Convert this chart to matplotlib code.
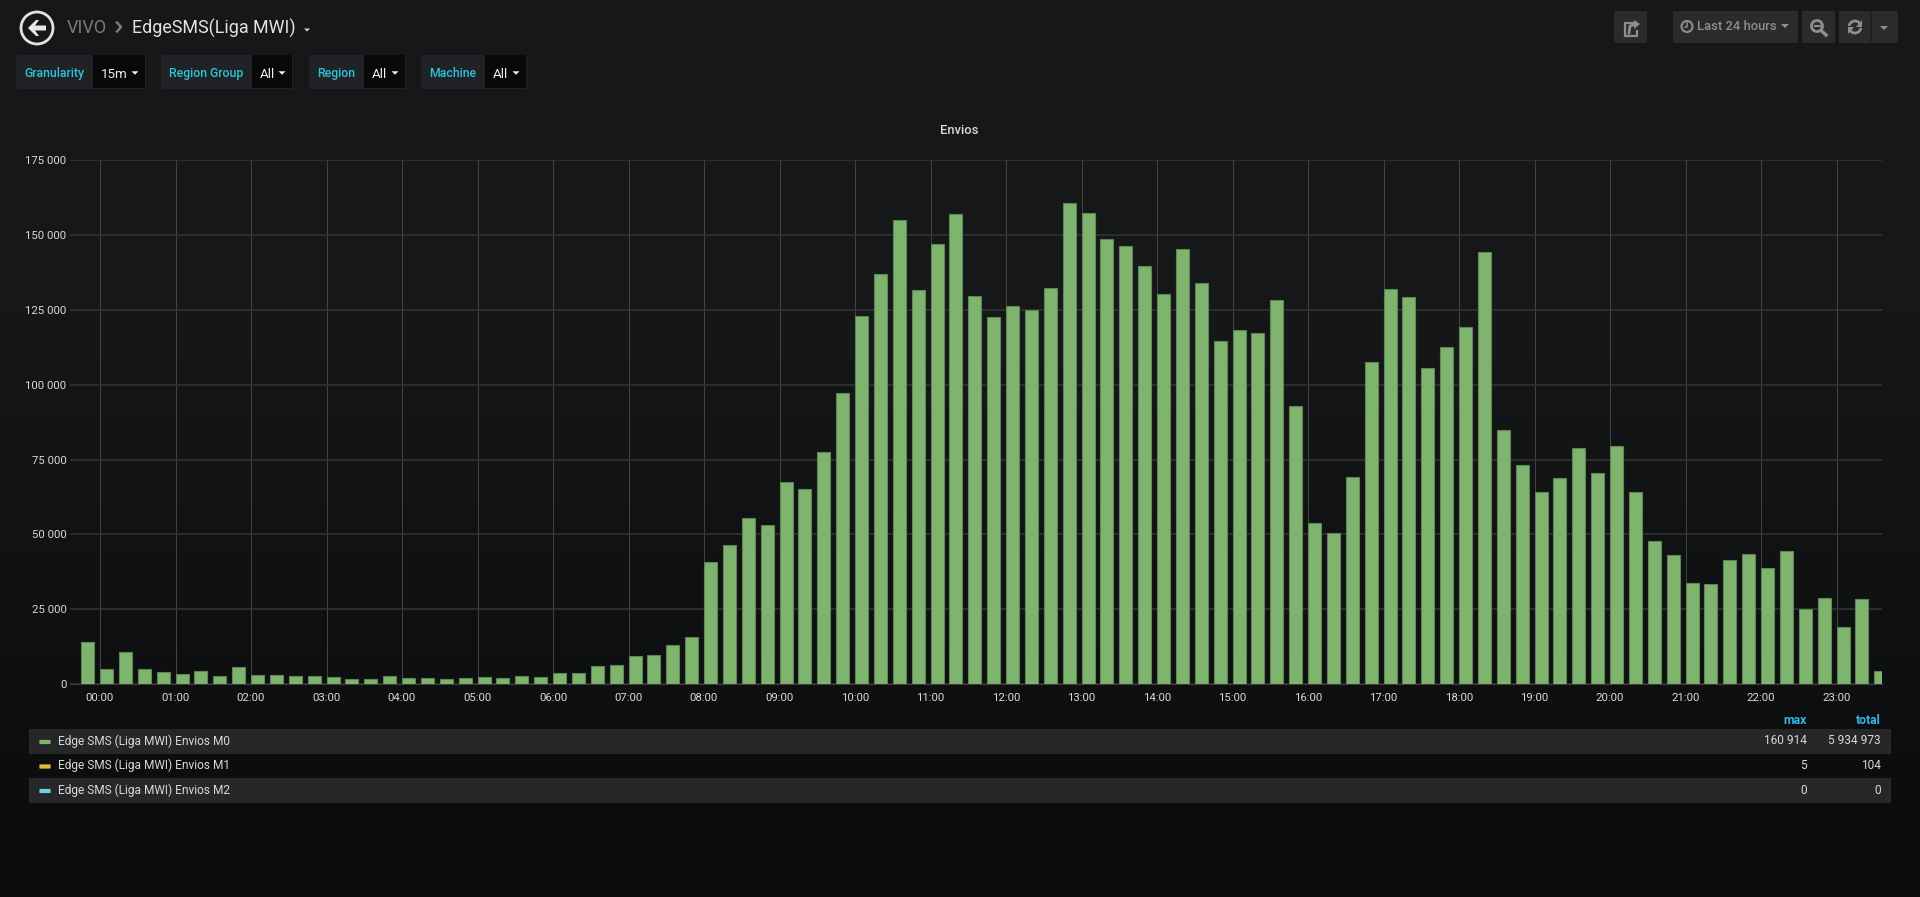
import numpy as np
import matplotlib
matplotlib.use("Agg")
import matplotlib.pyplot as plt
from matplotlib.patches import Rectangle, Circle, Polygon, Arc, FancyBboxPatch

plt.rcParams['font.family'] = ['Roboto', 'DejaVu Sans']

# Data, one bar per 15 min, first bar is 23:45 of the day before
envios_m0 = [14200, 4900, 10800, 5000, 4100, 3500, 4300, 2700, 5700, 3000, 3000, 2700, 2800,
             2350, 1800, 1600, 2800, 2100, 2000, 1700, 2000, 2350, 1900, 2700, 2350, 3600,
             3800, 5900, 6500, 9300, 9800, 13000, 15700,
             40850, 46500, 55500, 53000, 67500, 65300, 77500, 97200,
             123100, 136900, 155200, 131800, 147100, 157100, 129800, 122800,
             126300, 125000, 132500, 160914, 157600, 148800, 146400, 139700,
             130500, 145400, 134100, 114800, 118500, 117400, 128300, 92900,
             53800, 50600, 69300, 107800, 132000, 129500, 105800, 112500,
             119300, 144400, 84800, 73200, 64300, 69000, 78800, 70500,
             79600, 64300, 47700, 43200, 33900, 33400, 41400, 43500,
             38800, 44600, 25200, 28900, 19000, 28300, 4200]
y_ticks = [0, 25000, 50000, 75000, 100000, 125000, 150000, 175000]
hour_labels = ["%02d:00" % h for h in range(24)]

legend_names = ["Edge SMS (Liga MWI) Envios M0", "Edge SMS (Liga MWI) Envios M1", "Edge SMS (Liga MWI) Envios M2"]
legend_colors = ["#7eb26d", "#eab839", "#6ed0e0"]
legend_max = ["160 914", "5", "0"]
legend_total = ["5 934 973", "104", "0"]

variable_names = ["Granularity", "Region Group", "Region", "Machine"]
variable_values = ["15m", "All", "All", "All"]

W, H = 1920, 897
TEXT = "#d8d9da"
BLUE = "#33b5e5"
CYAN = "#2bc4d8"
BTN = "#2a2b2d"
ICON = "#8e8e8e"

fig = plt.figure(figsize=(W / 100, H / 100), dpi=100)

# background gradient + page chrome, in pixel coords
bg = fig.add_axes([0, 0, 1, 1], zorder=0)
bg.set_xlim(0, W)
bg.set_ylim(H, 0)
bg.axis("off")
grad = np.linspace(0, 1, 256).reshape(-1, 1)
grad = np.clip((grad - 0.35) / 0.65, 0, 1)
top = np.array([22, 23, 25]) / 255
bottom = np.array([10, 11, 13]) / 255
img = top + (bottom - top) * grad[:, :, None]
bg.imshow(img, extent=[0, W, H, 0], aspect="auto", zorder=0)


def box(x0, y0, x1, y1, color, z=1):
    bg.add_patch(FancyBboxPatch((x0 + 1, y0 + 1), x1 - x0 - 2, y1 - y0 - 2, boxstyle="round,pad=1",
                                fc=color, ec="none", zorder=z))


def caret(x, y, color, size=4):
    bg.add_patch(Polygon([[x - size, y - size / 2], [x + size, y - size / 2], [x, y + size / 2]],
                         closed=True, fc=color, ec="none", zorder=4))


# header
bg.add_patch(Circle((37, 28), 16, fc="none", ec="#e3e3e3", lw=2, zorder=3))
bg.add_patch(Polygon([[28, 28], [36, 20], [39, 20], [35, 25.5], [46, 25.5], [46, 30.5], [35, 30.5], [39, 36], [36, 36]],
                     closed=True, fc="#e8e8e8", ec="none", zorder=3))
bg.text(67, 28, "VIVO", color="#7b7b7b", fontsize=13, va="center", ha="left")
bg.plot([117, 121, 117], [22.5, 27, 31.5], color="#7b7b7b", lw=1.8, zorder=3)
bg.text(132, 28, "EdgeSMS(Liga MWI)", color="#e3e3e3", fontsize=12.9, va="center", ha="left")
caret(307, 30, "#d8d9da", 3)

# template variable chips
chips = [(16, 93, 146), (161, 252, 293), (309, 364, 406), (421, 485, 527)]
for i in range(len(chips)):
    x0, xm, x1 = chips[i]
    box(x0, 55, x1, 89, "#212225", 1)
    bg.add_patch(Rectangle((xm, 55.5), x1 - xm - 1, 33, fc="#08090b", ec="none", zorder=2))
    bg.text((x0 + xm) / 2, 73.5, variable_names[i], color=CYAN, fontsize=8.8, fontweight="medium",
            va="center", ha="center")
    bg.text(xm + 8, 74, variable_values[i], color="#f0f0f0", fontsize=9.6, va="center", ha="left")
    caret(x1 - 11, 73, "#f0f0f0", 3.5)

# top right buttons
box(1614, 11, 1647, 43, BTN)
box(1673, 11, 1798, 43, BTN)
box(1802, 11, 1835, 43, BTN)
box(1839, 11, 1898, 43, BTN)
bg.plot([1871, 1871], [11, 43], color="#1d1e20", lw=1, zorder=2)
# share icon
bg.plot([1634, 1625, 1625, 1637, 1637], [23, 23, 36, 36, 31], color=ICON, lw=1.6, zorder=3)
bg.plot([1629, 1630, 1636], [33, 26, 24], color=ICON, lw=2, zorder=3)
bg.add_patch(Polygon([[1634, 20], [1640, 24], [1634, 29]], closed=True, fc=ICON, ec="none", zorder=3))
# clock
bg.add_patch(Circle((1687, 26.5), 5.5, fc="none", ec=ICON, lw=1.5, zorder=3))
bg.plot([1687, 1687, 1684.5], [23, 27, 27], color=ICON, lw=1.1, zorder=3)
bg.text(1697, 27, "Last 24 hours", color=ICON, fontsize=9.4, fontweight="medium", va="center", ha="left")
caret(1785, 26, ICON, 4)
# zoom out
bg.add_patch(Circle((1817, 26), 5.5, fc="none", ec=ICON, lw=2, zorder=3))
bg.plot([1814.5, 1819.5], [26, 26], color=ICON, lw=1.5, zorder=3)
bg.plot([1821, 1826], [30.5, 35], color=ICON, lw=2.5, zorder=3)
# refresh
bg.add_patch(Arc((1855, 27), 12, 12, theta1=190, theta2=340, ec=ICON, lw=2, zorder=3))
bg.add_patch(Arc((1855, 27), 12, 12, theta1=10, theta2=160, ec=ICON, lw=2, zorder=3))
bg.add_patch(Polygon([[1862, 20], [1862, 27], [1856, 27]], closed=True, fc=ICON, ec="none", zorder=3))
bg.add_patch(Polygon([[1848, 34], [1848, 27], [1854, 27]], closed=True, fc=ICON, ec="none", zorder=3))
caret(1884, 28, ICON, 4)

# panel title
bg.text(959, 130, "Envios", color=TEXT, fontsize=9.4, fontweight="medium", va="center", ha="center")

# legend table
bg.text(1807, 720, "max", color=BLUE, fontsize=8.8, fontweight="bold", va="center", ha="right")
bg.text(1881, 720, "total", color=BLUE, fontsize=8.8, fontweight="bold", va="center", ha="right")
row_top = [729, 754, 778]
row_bot = [754, 778, 803]
for i in range(3):
    if i != 1:
        bg.add_patch(Rectangle((29, row_top[i]), 1862, row_bot[i] - row_top[i], fc="#262729", ec="none", zorder=1))
    yc = (row_top[i] + row_bot[i]) / 2
    bg.add_patch(FancyBboxPatch((40, yc - 1), 10, 3, boxstyle="round,pad=0.6", fc=legend_colors[i], ec="none", zorder=3))
    bg.text(57.5, yc - 0.5, legend_names[i], color=TEXT, fontsize=8.6, va="center", ha="left")
    bg.text(1807, yc - 0.5, legend_max[i], color=TEXT, fontsize=8.6, va="center", ha="right")
    bg.text(1881, yc - 0.5, legend_total[i], color=TEXT, fontsize=8.6, va="center", ha="right")

# chart
L, R, T, B = 70, 1882, 160.5, 684
ax = fig.add_axes([L / W, 1 - B / H, (R - L) / W, (B - T) / H], zorder=2)
ax.patch.set_alpha(0)

bar_hours = -0.25 + 0.25 * np.arange(len(envios_m0))
bar_w = 0.25 * 0.69
ax.bar(bar_hours, envios_m0, width=bar_w, align="edge", color="#7fb46f", edgecolor="#5c8652", linewidth=0.8, zorder=3)

ax.set_xlim(-30 / 75.5, (R - 100) / 75.5)
ax.set_ylim(0, 175000)
ax.set_xticks(np.arange(24))
ax.set_xticklabels(hour_labels)
ax.set_yticks(y_ticks)
ax.set_yticklabels([("%d" % v) if v == 0 else "%d %03d" % (v // 1000, v % 1000) for v in y_ticks])
ax.grid(True, axis="y", color="#343537", linewidth=1.1, zorder=1)
ax.grid(True, axis="x", color="#444547", linewidth=0.7, zorder=1)
ax.set_axisbelow(True)
ax.tick_params(axis="both", length=0, labelcolor=TEXT, labelsize=8.2)
ax.tick_params(axis="x", pad=6.7)
ax.tick_params(axis="y", pad=2.6)
for s in ["top", "right", "left"]:
    ax.spines[s].set_visible(False)
ax.spines["bottom"].set_color("#3b3c3e")

fig.savefig("out.png", dpi=100, facecolor="#161719")
